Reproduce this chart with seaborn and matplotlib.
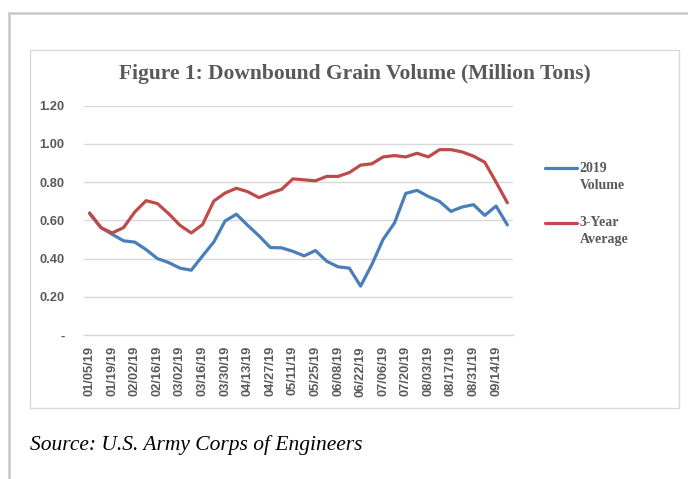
import matplotlib
matplotlib.use("Agg")
import matplotlib.pyplot as plt
import seaborn as sns
import pandas as pd
from matplotlib.lines import Line2D
from matplotlib.patches import Rectangle

weeks = ["01/05/19", "01/12/19", "01/19/19", "01/26/19", "02/02/19", "02/09/19",
         "02/16/19", "02/23/19", "03/02/19", "03/09/19", "03/16/19", "03/23/19",
         "03/30/19", "04/06/19", "04/13/19", "04/20/19", "04/27/19", "05/04/19",
         "05/11/19", "05/18/19", "05/25/19", "06/01/19", "06/08/19", "06/15/19",
         "06/22/19", "06/29/19", "07/06/19", "07/13/19", "07/20/19", "07/27/19",
         "08/03/19", "08/10/19", "08/17/19", "08/24/19", "08/31/19", "09/07/19",
         "09/14/19", "09/21/19"]

volume_2019 = [0.635, 0.562, 0.527, 0.493, 0.486, 0.447, 0.400, 0.379, 0.350, 0.339,
               0.414, 0.487, 0.597, 0.632, 0.574, 0.519, 0.458, 0.456, 0.438, 0.414,
               0.442, 0.386, 0.357, 0.350, 0.256, 0.369, 0.501, 0.586, 0.741, 0.757,
               0.725, 0.699, 0.647, 0.670, 0.682, 0.626, 0.675, 0.576]

avg_3yr = [0.639, 0.562, 0.534, 0.562, 0.644, 0.703, 0.688, 0.635, 0.574, 0.534,
           0.578, 0.701, 0.743, 0.768, 0.750, 0.719, 0.743, 0.762, 0.817, 0.812,
           0.807, 0.830, 0.830, 0.850, 0.889, 0.896, 0.932, 0.939, 0.932, 0.951,
           0.932, 0.970, 0.970, 0.958, 0.936, 0.904, 0.800, 0.692]

y_ticks = [0, 0.2, 0.4, 0.6, 0.8, 1.0, 1.2]
y_tick_labels = ["-", "0.20", "0.40", "0.60", "0.80", "1.00", "1.20"]

series_names = ["2019\nVolume", "3-Year\nAverage"]

df = pd.DataFrame({"week": weeks * 2,
                   "value": volume_2019 + avg_3yr,
                   "series": [series_names[0]] * len(weeks) + [series_names[1]] * len(weeks)})

sns.set_style("white")
plt.rcParams["font.family"] = ["Liberation Sans", "DejaVu Sans"]

W, H = 688, 479
fig = plt.figure(figsize=(W / 100, H / 100), dpi=100)
ax = fig.add_axes([84 / W, 1 - 335 / H, (513 - 84) / W, (335 - 105.7) / H])

sns.lineplot(data=df, x="week", y="value", hue="series", sort=False,
             palette=["#4A7EBB", "#BE4B48"], linewidth=2.3, ax=ax, legend=False)

ax.set_xlim(-0.5, len(weeks) - 0.5)
ax.set_ylim(0, 1.2)
ax.set_yticks(y_ticks)
ax.set_yticklabels(y_tick_labels)
ax.set_xticks(range(0, len(weeks), 2))
ax.set_xticklabels(weeks[::2], rotation=90)
ax.tick_params(axis="both", length=0, labelsize=9.3, labelcolor="#595959")
ax.tick_params(axis="y", pad=14)
ax.tick_params(axis="x", pad=8)
for lab in ax.get_xticklabels() + ax.get_yticklabels():
    lab.set_fontweight("bold")
ax.set_xlabel("")
ax.set_ylabel("")
ax.grid(axis="y", color="#D9D9D9", linewidth=1)
ax.set_axisbelow(True)
for side in ["top", "right", "left"]:
    ax.spines[side].set_visible(False)
ax.spines["bottom"].set_color("#D9D9D9")
ax.spines["bottom"].set_linewidth(1)

# legend: blank first row so the handle sits level with the first text line
handles = [Line2D([], [], color=l.get_color(), linewidth=2.3) for l in ax.get_lines()[:2]]
leg = ax.legend(handles, ["\n" + s for s in series_names],
                loc="upper left", bbox_to_anchor=(545 / W, 1 - 145 / H),
                bbox_transform=fig.transFigure, frameon=False,
                prop={"family": "Liberation Serif", "weight": "bold", "size": 10},
                handlelength=2.3, handletextpad=0.2, labelspacing=0.55,
                borderaxespad=0, borderpad=0)
for t in leg.get_texts():
    t.set_color("#595959")
    t.set_linespacing(1.38)

fig.text(354.5 / W, 1 - 74 / H, "Figure 1: Downbound Grain Volume (Million Tons)",
         ha="center", va="center", family="Liberation Serif", weight="bold",
         size=15.5, color="#595959")

fig.text(30 / W, 1 - 445 / H, "Source: U.S. Army Corps of Engineers",
         ha="left", va="center", family="Liberation Serif", style="italic",
         size=15.5, color="black")

# chart frame and outer box
fig.add_artist(Rectangle((30 / W, 1 - 408 / H), (679 - 30) / W, (408 - 50) / H,
                         transform=fig.transFigure, fill=False,
                         edgecolor="#D9D9D9", linewidth=1))
fig.add_artist(Line2D([9 / W, 9 / W], [0, 1 - 13 / H], transform=fig.transFigure,
                      color="#C8C8C8", linewidth=1.8))
fig.add_artist(Line2D([9 / W, 1], [1 - 13 / H, 1 - 13 / H], transform=fig.transFigure,
                      color="#C8C8C8", linewidth=1.8))

fig.savefig("out.png", dpi=100)
